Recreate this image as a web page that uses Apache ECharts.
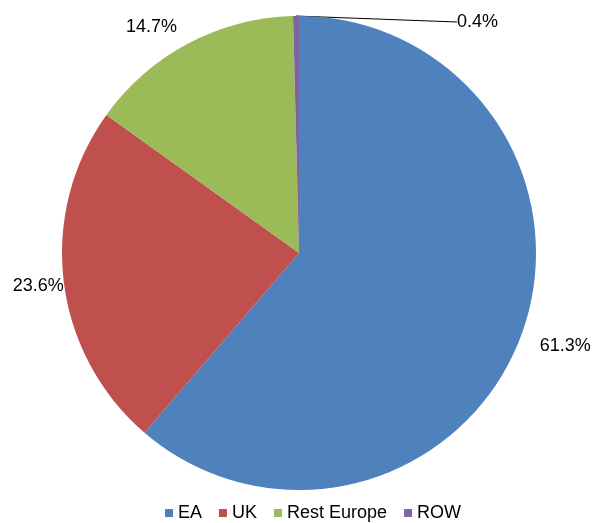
<!DOCTYPE html>
<html>
<head>
<meta charset="utf-8">
<script src="https://cdn.jsdelivr.net/npm/echarts@6/dist/echarts.min.js"></script>
<style>
html,body{margin:0;padding:0;background:#fff;}
#chart{width:600px;height:523px;}
</style>
</head>
<body>
<div id="chart"></div>
<script>
var regions = ['EA', 'UK', 'Rest Europe', 'ROW'];
var shares = [61.3, 23.6, 14.7, 0.4];
var colors = ['#4F81BD', '#C0504D', '#9BBB59', '#8064A2'];
// label leader settings per slice (only ROW shows its line)
var leadLen = [23, 0, 26, 4];

var myChart = echarts.init(document.getElementById('chart'));

var pieData = regions.map(function (name, i) {
	return {
		name: name,
		value: shares[i],
		itemStyle: { color: colors[i] },
		labelLine: { show: i === 3, length: leadLen[i], length2: 0 }
	};
});

myChart.setOption({
	animation: false,
	color: colors,
	legend: {
		bottom: -4,
		left: 160,
		itemWidth: 8,
		itemHeight: 8,
		itemGap: 17,
		icon: 'rect',
		textStyle: { fontFamily: 'Liberation Sans, Arial', fontSize: 18, color: '#000' },
		data: regions
	},
	series: [{
		type: 'pie',
		center: [299, 253],
		radius: [0, 237],
		startAngle: 90,
		clockwise: true,
		avoidLabelOverlap: false,
		itemStyle: { borderWidth: 0 },
		label: {
			show: true,
			position: 'outside',
			fontFamily: 'Liberation Sans, Arial',
			fontSize: 18,
			color: '#000',
			formatter: function (p) { return p.value.toFixed(1) + '%'; }
		},
		labelLine: { lineStyle: { color: '#000', width: 1 }, smooth: false },
		labelLayout: function (p) {
			if (p.dataIndex === 3) {
				return { x: 457, y: 22, align: 'left', verticalAlign: 'middle' };
			}
			if (p.dataIndex === 1) {
				return { dx: 5, dy: 5 };
			}
			if (p.dataIndex === 2) {
				return { dx: 6, dy: 6 };
			}
			return { dx: -8, dy: 3 };
		},
		data: pieData
	}]
}, true);
</script>
</body>
</html>
